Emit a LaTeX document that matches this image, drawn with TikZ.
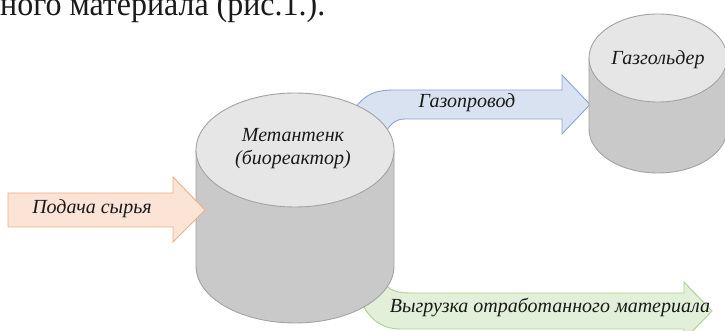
\documentclass[tikz,border=0pt]{standalone}
\usepackage{fontspec}
\setmainfont{Liberation Serif}
\begin{document}
\begin{tikzpicture}[x=1pt,y=1pt,
  cyltop/.style={fill=topgray,draw=edgegray,line width=0.9pt},
  cylbody/.style={fill=bodygray,draw=edgegray,line width=0.9pt},
  label/.style={font=\fontsize{20}{23}\selectfont\itshape,text=ink,inner sep=0pt},
  feed/.style={fill=feedfill,draw=feedline,line width=0.9pt,line join=miter},
  gas/.style={fill=gasfill,draw=gasline,line width=0.9pt,line join=miter},
  waste/.style={fill=wastefill,draw=wasteline,line width=0.9pt,line join=miter}]
\definecolor{topgray}{HTML}{E6E6E7}
\definecolor{bodygray}{HTML}{C9C9CA}
\definecolor{edgegray}{HTML}{A3A3A3}
\definecolor{feedfill}{HTML}{FBE3D6}
\definecolor{feedline}{HTML}{F2AE84}
\definecolor{gasfill}{HTML}{D9E2F1}
\definecolor{gasline}{HTML}{8AA6D4}
\definecolor{wastefill}{HTML}{E2F0D9}
\definecolor{wasteline}{HTML}{ABD191}
\definecolor{ink}{HTML}{1A1A1A}
\useasboundingbox (0,0) rectangle (725,331);
\clip (0,0) rectangle (725,331);
\fill[white] (0,0) rectangle (725,331);

% running text above the figure, its upper part runs off the page
\node[anchor=base west,inner sep=0pt,font=\fontsize{34}{38}\selectfont,text=ink,xscale=0.94,transform shape] (caption) at (0,315.5) {ного материала (рис.1.).};

% gas pipe (behind the digester)
\draw[gas] (345,206) .. controls (360,236) and (372,241) .. (395,241) -- (562,241) -- (562,256)
  -- (590,226.5) -- (562,197) -- (562,212) -- (405,212) .. controls (395,212) and (388,206) .. (382,191) -- cycle;
% discharge of spent material (behind the digester)
\draw[waste] (375,61) .. controls (385,41) and (395,38) .. (410,38) -- (684,38) -- (684,49)
  -- (712,20) -- (684,-9) -- (684,2) -- (400,2) .. controls (375,2) and (362,21) .. (358,41) -- cycle;

% digester
\draw[cylbody] (196,181) -- (196,65) arc[start angle=180,end angle=360,x radius=99,y radius=57] -- (394,181) -- cycle;
\draw[cyltop] (295,181) ellipse[x radius=99,y radius=57];
% gas holder
\draw[cylbody] (589,273) -- (589,202) arc[start angle=180,end angle=360,x radius=69,y radius=44] -- (727,273) -- cycle;
\draw[cyltop] (658,273) ellipse[x radius=69,y radius=44];

% raw material feed (over the digester)
\draw[feed] (8,138) -- (173,138) -- (173,154) -- (205,121) -- (173,89) -- (173,104) -- (8,104) -- cycle;

\node[label] (feedtext) at (92,122) {Подача сырья};
\node[label] (gastext) at (467,228) {Газопровод};
\node[label] (wastetext) at (550,23) {Выгрузка отработанного материала};
\node[label,align=center] (digester) at (293,182) {Метантенк\\(биореактор)};
\node[label] (holder) at (658,271) {Газгольдер};
\end{tikzpicture}
\end{document}
